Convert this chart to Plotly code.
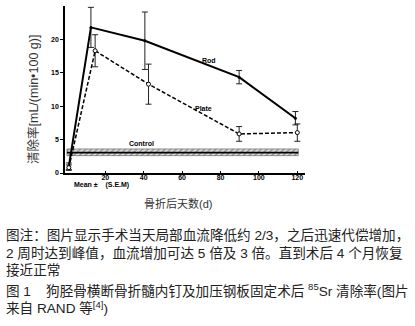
import plotly.graph_objects as go

# Days after fracture and 85Sr clearance (mean, S.E.M.)
rod_days = [1, 12.5, 40.6, 89.7, 119]
rod_vals = [1.0, 21.8, 19.8, 14.35, 8.2]
rod_sem = [0.5, 3.0, 4.3, 1.0, 1.0]

plate_days = [1, 14.7, 42.5, 89.7, 120]
plate_vals = [0.8, 18.3, 13.3, 5.85, 6.05]
plate_sem = [0.4, 2.4, 3.0, 1.1, 1.3]

control_days = [0, 120.5]
control_mean = 3.05
control_low = 2.6
control_high = 3.6

x_ticks = [20, 40, 60, 80, 100, 120]
y_ticks = [0, 5, 10, 15, 20]

note_lines = [
    "图注：图片显示手术当天局部血流降低约 2/3，之后迅速代偿增加，",
    "2 周时达到峰值，血流增加可达 5 倍及 3 倍。直到术后 4 个月恢复",
    "接近正常",
]
figure_title_lines = [
    "图 1    狗胫骨横断骨折髓内钉及加压钢板固定术后 <sup>85</sup>Sr 清除率(图片",
    "来自 RAND 等<sup>[4]</sup>)",
]

W, H = 415, 326
L, R, T, B = 65, 110, 6, 153
PW, PH = W - L - R, H - T - B


def px(x):
    return (x - L) / PW


def py(y):
    return (H - B - y) / PH


fig = go.Figure()

# Control band (hatched) and its mean line
fig.add_trace(go.Scatter(
    x=[control_days[0], control_days[1], control_days[1], control_days[0], control_days[0]],
    y=[control_low, control_low, control_high, control_high, control_low],
    mode="lines", line=dict(width=0.6, color="#555"), fill="toself",
    fillcolor="rgba(255,255,255,0)",
    fillpattern=dict(shape="/", fgcolor="#444", bgcolor="#ddd", size=4, solidity=0.35),
    hoverinfo="skip", showlegend=False,
))
fig.add_trace(go.Scatter(
    x=control_days, y=[control_mean, control_mean], mode="lines",
    line=dict(color="black", width=1.8), showlegend=False,
))

fig.add_trace(go.Scatter(
    x=rod_days, y=rod_vals, mode="lines+markers",
    line=dict(color="black", width=2),
    marker=dict(size=3, color="black"),
    error_y=dict(type="data", array=rod_sem, color="#222", thickness=1, width=3),
    showlegend=False,
))
fig.add_trace(go.Scatter(
    x=plate_days, y=plate_vals, mode="lines+markers",
    line=dict(color="black", width=1.5, dash="4px,2px"),
    marker=dict(size=4, color="white", line=dict(color="black", width=1)),
    error_y=dict(type="data", array=plate_sem, color="#222", thickness=1, width=3),
    showlegend=False,
))

label_font = dict(family="Liberation Sans Narrow, Arial Narrow, sans-serif", size=7, color="black")
for txt, x, y in [("<b>Rod</b>", 74, 16.8), ("<b>Plate</b>", 71, 9.6), ("<b>Control</b>", 39, 4.45)]:
    fig.add_annotation(x=x, y=y, text=txt, showarrow=False, font=label_font)

fig.add_annotation(x=px(72), y=py(184.5), xref="paper", yref="paper", xanchor="left",
                   yanchor="middle", text="<b>Mean ±    (S.E.M)</b>", showarrow=False,
                   font=label_font)

cjk = "Liberation Sans, Noto Sans CJK SC"
fig.add_annotation(x=px(33), y=py(100), xref="paper", yref="paper", textangle=-90,
                   xanchor="center", yanchor="middle",
                   text="清除率[mL/(min•100 g)]", showarrow=False,
                   font=dict(family=cjk, size=12.5, color="#333"))
fig.add_annotation(x=px(178), y=py(203), xref="paper", yref="paper",
                   xanchor="center", yanchor="middle",
                   text="骨折后天数(d)", showarrow=False,
                   font=dict(family=cjk, size=11, color="#333"))

for lines, yc in [(note_lines, 252.5), (figure_title_lines, 298)]:
    fig.add_annotation(x=px(4), y=py(yc), xref="paper", yref="paper", xanchor="left",
                       yanchor="middle", align="left", text="<br>".join(lines),
                       showarrow=False,
                       font=dict(family=cjk, size=13.6, color="#222"))

tick_font = dict(family="Liberation Sans Narrow, Arial Narrow, sans-serif", size=7, color="black")
fig.update_xaxes(range=[-1, 124], tickvals=x_ticks, ticktext=[f"<b>{v}</b>" for v in x_ticks],
                 showline=True, linecolor="black", linewidth=1.5, ticks="inside",
                 ticklen=2, tickcolor="black", showgrid=False, zeroline=False,
                 tickfont=tick_font, ticklabelstandoff=-3)
fig.update_yaxes(range=[0, 25], tickvals=y_ticks, ticktext=[f"<b>{v}</b>" for v in y_ticks],
                 showline=True, linecolor="black", linewidth=1.5, ticks="outside",
                 ticklen=3, tickcolor="black", showgrid=False, zeroline=False,
                 tickfont=tick_font)

fig.update_layout(width=W, height=H, margin=dict(l=L, r=R, t=T, b=B),
                  paper_bgcolor="white", plot_bgcolor="white")

fig.write_html("out.html")
